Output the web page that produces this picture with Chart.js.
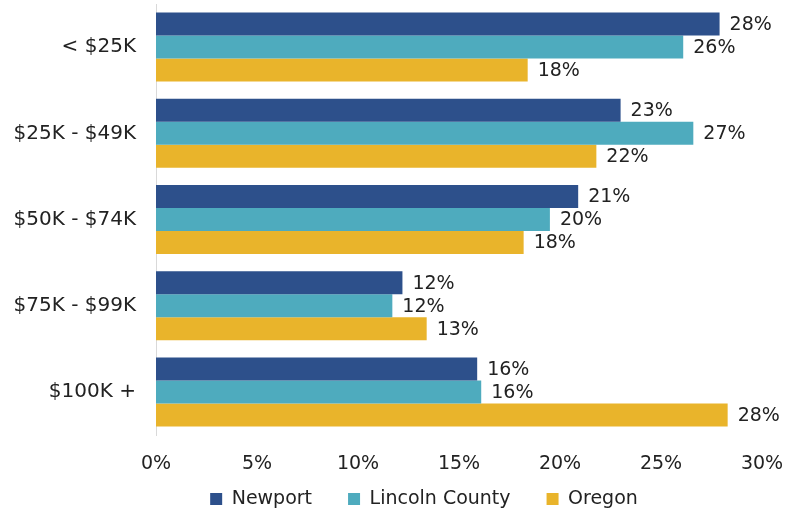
<!DOCTYPE html>
<html>
<head>
<meta charset="utf-8">
<script src="https://cdn.jsdelivr.net/npm/chart.js@4.4.0/dist/chart.umd.min.js"></script>
<style>
  html, body { margin: 0; padding: 0; background: #fff; }
  #wrap { width: 791px; height: 511px; position: relative; }
</style>
</head>
<body>
<div id="wrap"><canvas id="incomeChart"></canvas></div>
<script>
  // income brackets, share of households (%)
  const categories = ["< $25K", "$25K - $49K", "$50K - $74K", "$75K - $99K", "$100K +"];
  const newport = [27.9, 23.0, 20.9, 12.2, 15.9];
  const lincolnCounty = [26.1, 26.6, 19.5, 11.7, 16.1];
  const oregon = [18.4, 21.8, 18.2, 13.4, 28.3];
  const xTicks = [0, 5, 10, 15, 20, 25, 30];

  const fontFamily = "'DejaVu Sans', sans-serif";
  const textColor = "#222222";

  // percent labels at the end of each bar
  const barLabels = {
    id: 'barLabels',
    afterDatasetsDraw(chart) {
      const ctx = chart.ctx;
      ctx.save();
      ctx.font = "19px " + fontFamily;
      ctx.fillStyle = textColor;
      ctx.textAlign = 'left';
      ctx.textBaseline = 'middle';
      chart.data.datasets.forEach((ds, i) => {
        const meta = chart.getDatasetMeta(i);
        meta.data.forEach((bar, j) => {
          ctx.fillText(Math.round(ds.data[j]) + '%', bar.x + 10, bar.y + 1);
        });
      });
      ctx.restore();
    }
  };

  // nudge the legend: a bit right of centre, and up closer to the axis
  const legendShift = {
    id: 'legendShift',
    afterLayout(chart) {
      chart.legend.left += 43;
      chart.legend.right += 43;
      chart.legend.top -= 21.5;
    }
  };

  new Chart(document.getElementById('incomeChart'), {
    type: 'bar',
    data: {
      labels: categories,
      datasets: [
        { label: 'Newport', data: newport, backgroundColor: '#2D508B' },
        { label: 'Lincoln County', data: lincolnCounty, backgroundColor: '#4EABBE' },
        { label: 'Oregon', data: oregon, backgroundColor: '#E9B42B' }
      ]
    },
    options: {
      indexAxis: 'y',
      responsive: true,
      maintainAspectRatio: false,
      animation: false,
      categoryPercentage: 0.8,
      barPercentage: 1.0,
      layout: { padding: { top: 4, right: 29, bottom: 0, left: 0 } },
      plugins: {
        legend: {
          position: 'bottom',
          maxHeight: 36,
          labels: {
            font: { family: fontFamily, size: 19 },
            color: textColor,
            boxWidth: 12,
            boxHeight: 12,
            padding: 36
          }
        },
        tooltip: { enabled: false }
      },
      scales: {
        x: {
          min: 0,
          max: 30,
          afterBuildTicks: (axis) => { axis.ticks = xTicks.map(v => ({ value: v })); },
          afterFit: (axis) => { axis.height = 40; axis.paddingLeft = 0; axis.paddingRight = 0; },
          grid: { display: false },
          border: { display: false },
          ticks: {
            font: { family: fontFamily, size: 19 },
            color: textColor,
            padding: 10,
            callback: (v) => v + '%'
          }
        },
        y: {
          grid: { display: false },
          border: { display: true, color: '#d9d9d9', width: 1 },
          afterFit: (axis) => { axis.width = 156; axis.paddingTop = 0; axis.paddingBottom = 0; },
          ticks: {
            font: { family: fontFamily, size: 20 },
            color: textColor,
            padding: 12
          }
        }
      }
    },
    plugins: [barLabels, legendShift]
  });
</script>
</body>
</html>
